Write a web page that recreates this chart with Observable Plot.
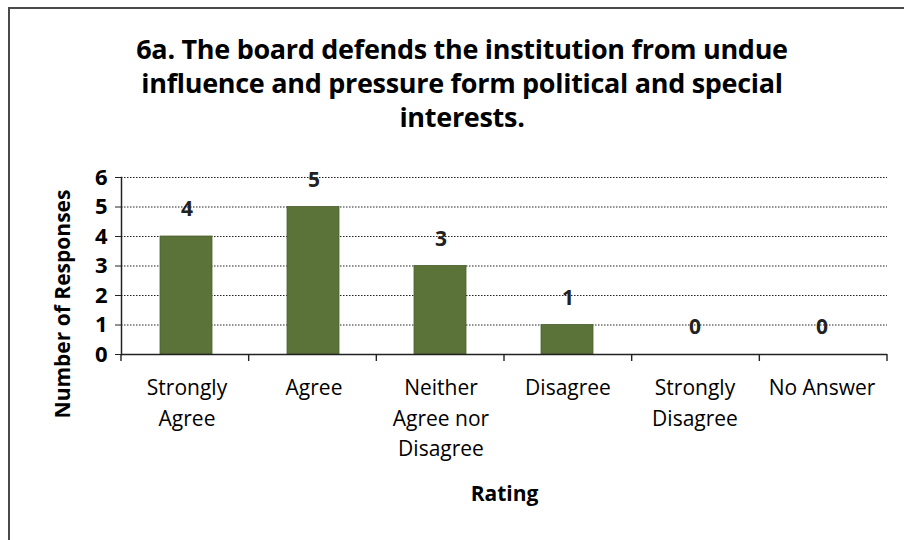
<!DOCTYPE html>
<html>
<head>
<meta charset="utf-8">
<script src="https://cdn.jsdelivr.net/npm/d3@7"></script>
<script src="https://cdn.jsdelivr.net/npm/@observablehq/plot@0.6"></script>
<style>
  html, body { margin: 0; padding: 0; background: #fff; width: 904px; height: 540px; overflow: hidden; }
  #frame { position: absolute; left: 8px; top: 7px; width: 930px; height: 560px; border-left: 2px solid #4a4a4a; border-top: 2px solid #4a4a4a; }
  #title { position: absolute; left: 0; top: 32px; width: 924px; text-align: center; font-family: "Open Sans", sans-serif; font-weight: 700; font-size: 27px; line-height: 34px; color: #000; letter-spacing: -0.3px; }
  #ytitle { position: absolute; left: 62px; top: 304px; transform: translate(-50%, -50%) rotate(-90deg); white-space: nowrap; font-family: "Open Sans", sans-serif; font-weight: 700; font-size: 21px; color: #000; }
  #chart { position: absolute; left: 0; top: 150px; }
  #chart svg { overflow: visible; }
</style>
</head>
<body>
<div id="frame"></div>
<div id="title">6a. The board defends the institution from undue<br>influence and pressure form political and special<br>interests.</div>
<div id="chart"></div>
<div id="ytitle"></div>
<script>
const categories = ["Strongly Agree", "Agree", "Neither Agree nor Disagree", "Disagree", "Strongly Disagree", "No Answer"];
const tickLabels = ["Strongly\nAgree", "Agree", "Neither\nAgree nor\nDisagree", "Disagree", "Strongly\nDisagree", "No Answer"];
const counts = [4, 5, 3, 1, 0, 0];
const yTicks = [0, 1, 2, 3, 4, 5, 6];
const yTitle = "Number of Responses";
const xTitle = "Rating";

const data = categories.map((c, i) => ({category: c, count: counts[i], label: tickLabels[i]}));
const font = "'Open Sans', sans-serif";

const bandTicks = (index, scales, values, dims) => {
  const g = d3.create("svg:g").attr("stroke", "#222").attr("stroke-width", 1.4);
  const x0 = dims.marginLeft, x1 = dims.width - dims.marginRight;
  const y0 = scales.y(0);
  const n = categories.length;
  for (let i = 0; i <= n; i++) {
    const x = x0 + (x1 - x0) * i / n;
    g.append("line").attr("x1", x).attr("x2", x).attr("y1", y0).attr("y2", y0 + 7);
  }
  return g.node();
};

const plot = Plot.plot({
  width: 904,
  height: 390,
  marginTop: 27,
  marginBottom: 186,
  marginLeft: 121,
  marginRight: 17,
  style: {fontFamily: font, fontSize: "20px", color: "#000", background: "transparent"},
  x: {domain: categories, padding: 0, label: null, axis: null},
  y: {domain: [0, 6], ticks: yTicks, label: null, axis: null},
  marks: [
    Plot.gridY(yTicks.filter(d => d > 0), {stroke: "#222", strokeOpacity: 1, strokeWidth: 1.2, strokeDasharray: "1.5,1.5"}),
    Plot.barY(data, {x: "category", y: "count", fill: "#5b7238", stroke: "#4d6330", strokeWidth: 0.8, insetLeft: 37, insetRight: 38}),
    Plot.text(data, {x: "category", y: d => d.count + 0.95, text: d => String(d.count), fontSize: 21, fontWeight: 700, fill: "#222", dy: 1}),
    Plot.ruleY([0], {stroke: "#222", strokeWidth: 1.5}),
    Plot.axisY({ticks: yTicks, tickFormat: d3.format("d"), tickSize: 6, tickPadding: 8, fontSize: 22, fontWeight: 700, stroke: "#222", label: null}),
    Plot.frame({anchor: "left", stroke: "#222", strokeWidth: 1.5}),
    bandTicks,
    Plot.text(data, {x: "category", text: "label", frameAnchor: "bottom", dy: 19, lineHeight: 1.45, fontSize: 21, fill: "#000", lineAnchor: "top"}),
    Plot.text([xTitle], {frameAnchor: "bottom", dx: 0, dy: 146, fontSize: 21, fontWeight: 700, fill: "#000", text: d => d})
  ]
});
document.getElementById("chart").appendChild(plot);
document.getElementById("ytitle").textContent = yTitle;
</script>
</body>
</html>
